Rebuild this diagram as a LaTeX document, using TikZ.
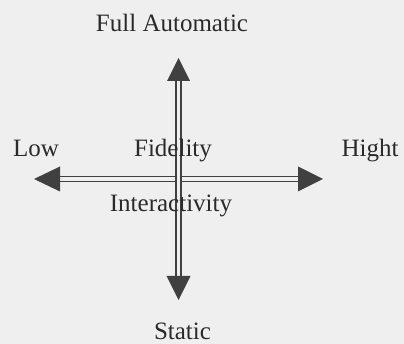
\documentclass[tikz,border=0pt]{standalone}
\usepackage{fontspec}
\setmainfont{Liberation Serif}
\definecolor{bgc}{HTML}{EFEFEF}
\definecolor{ink}{HTML}{2A2A2A}
\definecolor{arr}{HTML}{404040}
\tikzset{
  lbl/.style={anchor=base, inner sep=0pt, text=ink, font=\fontsize{25}{30}\selectfont},
  axis/.style={draw=arr, double=bgc, double distance=3.6pt, line width=1.5pt},
  head/.style={fill=arr}
}
\begin{document}
\begin{tikzpicture}[x=1pt,y=-1pt]
\fill[bgc] (0,0) rectangle (404,344);
\useasboundingbox (0,0) rectangle (404,344);
% arrow tips and bases
\coordinate (ttip) at (178.5,58);
\coordinate (tbase) at (178.5,81);
\coordinate (btip) at (178.5,300);
\coordinate (bbase) at (178.5,276);
\coordinate (ltip) at (34,179);
\coordinate (lbase) at (60,179);
\coordinate (rtip) at (323,179);
\coordinate (rbase) at (298,179);
% shafts
\draw[axis] (lbase) -- (rbase);
\draw[axis] (tbase) -- (bbase);
% heads
\fill[head] (ttip) -- ([xshift=-11.5pt]tbase) -- ([xshift=11.5pt]tbase) -- cycle;
\fill[head] (btip) -- ([xshift=-12pt]bbase) -- ([xshift=12pt]bbase) -- cycle;
\fill[head] (ltip) -- ([yshift=-12.5pt]lbase) -- ([yshift=12.5pt]lbase) -- cycle;
\fill[head] (rtip) -- ([yshift=-12.5pt]rbase) -- ([yshift=12.5pt]rbase) -- cycle;
% labels
\node[lbl] (full) at (172,32) {Full Automatic};
\node[lbl] (low) at (36,157) {Low};
\node[lbl] (fid) at (173,157) {Fidelity};
\node[lbl] (hi) at (370,157) {Hight};
\node[lbl] (inter) at (171,212) {Interactivity};
\node[lbl] (stat) at (182.5,339.5) {Static};
\end{tikzpicture}
\end{document}
